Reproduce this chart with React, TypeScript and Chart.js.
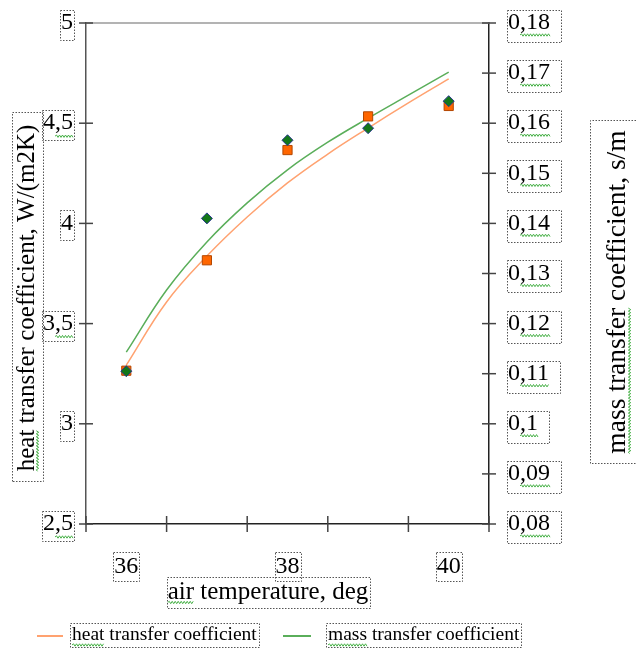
import React, { useEffect, useRef } from 'react';
import { Chart, registerables } from 'chart.js';

Chart.register(...registerables);

// ---- data ----
const temperatures = [36, 37, 38, 39, 40];
const heatValues = [3.265, 3.816, 4.366, 4.534, 4.586];
const massValues = [0.1105, 0.141, 0.1566, 0.159, 0.1644];
const trendTemps = [36, 36.5, 37, 37.5, 38, 38.5, 39, 39.5, 40];
const heatTrend = [3.293, 3.608, 3.837, 4.032, 4.202, 4.346, 4.476, 4.601, 4.721];
const massTrend = [0.1143, 0.1267, 0.1363, 0.1441, 0.1507, 0.1562, 0.161, 0.1656, 0.1702];
const xTickLabels = [36, 38, 40];
const xMin = 35.5;
const xMax = 40.5;
const heatMin = 2.5;
const heatMax = 5;
const heatStep = 0.5;
const massMin = 0.08;
const massMax = 0.18;
const massStep = 0.01;
const xTitle = 'air temperature, deg';
const heatTitle = 'heat transfer coefficient, W/(m2K)';
const massTitle = 'mass transfer coefficient, s/m';
const heatLabel = 'heat transfer coefficient';
const massLabel = 'mass transfer coefficient';

const SERIF = "'Liberation Serif', 'Times New Roman', serif";
const ORANGE_LINE = '#FFA270';
const GREEN_LINE = '#5AAE5A';
const SQUIGGLE = '#47b047';

const fmtComma = (v: number, d: number) => String(parseFloat(v.toFixed(d))).replace('.', ',');

function dottedRect(ctx: CanvasRenderingContext2D, x: number, y: number, w: number, h: number) {
  ctx.save();
  ctx.setLineDash([1.5, 1.5]);
  ctx.strokeStyle = '#555';
  ctx.lineWidth = 1;
  ctx.strokeRect(Math.round(x) + 0.5, Math.round(y) + 0.5, Math.round(w), Math.round(h));
  ctx.restore();
}

function squiggle(ctx: CanvasRenderingContext2D, x0: number, x1: number, y: number) {
  ctx.save();
  ctx.setLineDash([]);
  ctx.strokeStyle = SQUIGGLE;
  ctx.lineWidth = 1;
  ctx.beginPath();
  let up = true;
  ctx.moveTo(x0, y);
  for (let x = x0 + 1.5; x <= x1; x += 1.5) {
    ctx.lineTo(x, up ? y - 1.2 : y + 1.2);
    up = !up;
  }
  ctx.stroke();
  ctx.restore();
}

function boxedText(
  ctx: CanvasRenderingContext2D,
  text: string,
  cx: number,
  cy: number,
  rot: number,
  size: number,
  padX: number,
  padY: number,
  squigglePart?: string
) {
  ctx.save();
  ctx.translate(cx, cy);
  ctx.rotate(rot);
  ctx.font = `${size}px ${SERIF}`;
  ctx.textAlign = 'center';
  ctx.textBaseline = 'middle';
  ctx.fillStyle = '#000';
  ctx.fillText(text, 0, 0);
  const w = ctx.measureText(text).width;
  if (squigglePart) {
    const sw = ctx.measureText(squigglePart).width;
    squiggle(ctx, -w / 2, -w / 2 + sw, size * 0.42);
  }
  dottedRect(ctx, -w / 2 - padX, -size / 2 - padY, w + 2 * padX, size + 2 * padY);
  ctx.restore();
}

const decorPlugin = {
  id: 'decor',
  afterDraw(chart: any) {
    const { ctx, chartArea: a, scales } = chart;
    const xs = scales.x;
    const ys = scales.y;
    const ys1 = scales.y1;
    ctx.save();
    // top frame line
    ctx.strokeStyle = '#9a9a9a';
    ctx.lineWidth = 1.5;
    ctx.beginPath();
    ctx.moveTo(a.left, a.top);
    ctx.lineTo(a.right, a.top);
    ctx.stroke();

    // crossing tick marks
    ctx.strokeStyle = '#444';
    ctx.lineWidth = 1.5;
    ys.ticks.forEach((_t: any, i: number) => {
      const py = ys.getPixelForTick(i);
      ctx.beginPath();
      ctx.moveTo(a.left - 7, py);
      ctx.lineTo(a.left + 7, py);
      ctx.stroke();
    });
    ys1.ticks.forEach((_t: any, i: number) => {
      const py = ys1.getPixelForTick(i);
      ctx.beginPath();
      ctx.moveTo(a.right - 7, py);
      ctx.lineTo(a.right + 7, py);
      ctx.stroke();
    });
    for (let v = xs.min; v <= xs.max + 1e-9; v += 1) {
      const px = xs.getPixelForValue(v);
      ctx.beginPath();
      ctx.moveTo(px, a.bottom - 8);
      ctx.lineTo(px, a.bottom + 8);
      ctx.stroke();
    }

    // dotted frames (and spell-check marks) around tick labels
    ctx.font = `24px ${SERIF}`;
    ys.ticks.forEach((t: any, i: number) => {
      const py = ys.getPixelForTick(i);
      const w = ctx.measureText(t.label).width;
      const right = a.left - 13;
      dottedRect(ctx, right - w - 1, py - 13, w + 2, 30);
      if (t.label.includes(',')) {
        const head = ctx.measureText(t.label.split(',')[0]).width;
        squiggle(ctx, right - w + head, right, py + 13);
      }
    });
    ys1.ticks.forEach((t: any, i: number) => {
      const py = ys1.getPixelForTick(i);
      const w = ctx.measureText(t.label).width;
      const left = a.right + 19;
      dottedRect(ctx, left - 1, py - 13, w + 12, 32);
      if (t.label.includes(',')) {
        const head = ctx.measureText(t.label.split(',')[0]).width;
        squiggle(ctx, left + head, left + w, py + 12);
      }
    });
    xs.ticks.forEach((t: any, i: number) => {
      const px = xs.getPixelForTick(i);
      const w = ctx.measureText(t.label).width;
      dottedRect(ctx, px - w / 2 - 1, a.bottom + 28, w + 2, 29);
    });

    // axis titles
    boxedText(ctx, heatTitle, a.left - 59, a.top + 275, -Math.PI / 2, 25, 11, 3, 'heat');
    boxedText(ctx, massTitle, a.right + 129, a.top + 269, -Math.PI / 2, 27.5, 10, 14, 'mass transfer');
    boxedText(ctx, xTitle, a.left + 182, a.bottom + 68, 0, 25, 1, 3, 'air');

    // legend
    const ly = a.bottom + 112;
    const items = [
      { label: heatLabel, color: chart.data.datasets[2].borderColor, x0: a.left - 49, x1: a.left - 23, tx: a.left - 14, sq: 'heat' },
      { label: massLabel, color: chart.data.datasets[3].borderColor, x0: a.left + 197, x1: a.left + 225, tx: a.left + 242, sq: 'mass' },
    ];
    items.forEach((it) => {
      ctx.strokeStyle = it.color;
      ctx.lineWidth = 2;
      ctx.beginPath();
      ctx.moveTo(it.x0, ly);
      ctx.lineTo(it.x1, ly);
      ctx.stroke();
      ctx.font = `19.5px ${SERIF}`;
      ctx.textAlign = 'left';
      ctx.textBaseline = 'middle';
      ctx.fillStyle = '#000';
      ctx.fillText(it.label, it.tx, ly - 1);
      const w = ctx.measureText(it.label).width;
      const sw = ctx.measureText(it.sq).width;
      squiggle(ctx, it.tx, it.tx + sw, ly + 9);
      dottedRect(ctx, it.tx - 2, ly - 13, w + 4, 24);
    });
    ctx.restore();
  },
};

const fixVertical = (width: number) => (s: any) => {
  s.width = width;
  s.paddingTop = 0;
  s.paddingBottom = 0;
};

export default function App() {
  const ref = useRef<HTMLCanvasElement | null>(null);

  useEffect(() => {
    if (!ref.current) return;
    const chart = new Chart(ref.current, {
      type: 'scatter',
      data: {
        datasets: [
          {
            label: massLabel + ' data',
            data: temperatures.map((t, i) => ({ x: t, y: massValues[i] })),
            yAxisID: 'y1',
            pointStyle: 'rectRot',
            pointRadius: 5.5,
            backgroundColor: '#13771a',
            borderColor: '#2b3a8f',
            borderWidth: 1,
            showLine: false,
            order: 0,
          },
          {
            label: heatLabel + ' data',
            data: temperatures.map((t, i) => ({ x: t, y: heatValues[i] })),
            yAxisID: 'y',
            pointStyle: 'rect',
            pointRadius: 6.5,
            backgroundColor: '#FF6600',
            borderColor: '#B34700',
            borderWidth: 1,
            showLine: false,
            order: 1,
          },
          {
            type: 'line',
            label: heatLabel,
            data: trendTemps.map((t, i) => ({ x: t, y: heatTrend[i] })),
            yAxisID: 'y',
            borderColor: ORANGE_LINE,
            borderWidth: 1.5,
            pointRadius: 0,
            tension: 0.4,
            fill: false,
            order: 2,
          },
          {
            type: 'line',
            label: massLabel,
            data: trendTemps.map((t, i) => ({ x: t, y: massTrend[i] })),
            yAxisID: 'y1',
            borderColor: GREEN_LINE,
            borderWidth: 1.5,
            pointRadius: 0,
            tension: 0.4,
            fill: false,
            order: 3,
          },
        ] as any,
      },
      options: {
        responsive: false,
        animation: false,
        layout: { padding: { top: 23, left: 0, right: 0, bottom: 0 } },
        plugins: { legend: { display: false }, tooltip: { enabled: false } },
        scales: {
          x: {
            type: 'linear',
            position: 'bottom',
            min: xMin,
            max: xMax,
            afterBuildTicks: (s: any) => {
              s.ticks = xTickLabels.map((v) => ({ value: v }));
            },
            afterFit: (s: any) => {
              s.height = 124;
              s.paddingLeft = 0;
              s.paddingRight = 0;
            },
            grid: { display: false, drawTicks: false },
            border: { display: true, color: '#222', width: 1.5 },
            ticks: {
              padding: 28,
              color: '#000',
              font: { family: SERIF, size: 24 },
              maxRotation: 0,
              autoSkip: false,
              callback: (v: any) => String(v),
            },
          },
          y: {
            type: 'linear',
            position: 'left',
            min: heatMin,
            max: heatMax,
            afterFit: fixVertical(86),
            grid: { display: false, drawTicks: false },
            border: { display: true, color: '#555', width: 1.5 },
            ticks: {
              stepSize: heatStep,
              padding: 13,
              color: '#000',
              font: { family: SERIF, size: 24 },
              callback: (v: any) => fmtComma(Number(v), 1),
            },
          },
          y1: {
            type: 'linear',
            position: 'right',
            min: massMin,
            max: massMax,
            afterFit: fixVertical(148),
            grid: { display: false, drawTicks: false },
            border: { display: true, color: '#222', width: 1.5 },
            ticks: {
              stepSize: massStep,
              padding: 19,
              color: '#000',
              font: { family: SERIF, size: 24 },
              callback: (v: any) => fmtComma(Number(v), 2),
            },
          },
        },
      } as any,
      plugins: [decorPlugin],
    });
    return () => chart.destroy();
  }, []);

  return (
    <div style={{ position: 'absolute', left: 0, top: 0, width: 637, height: 648, background: '#fff' }}>
      <canvas ref={ref} width={637} height={648} style={{ display: 'block' }} />
    </div>
  );
}
